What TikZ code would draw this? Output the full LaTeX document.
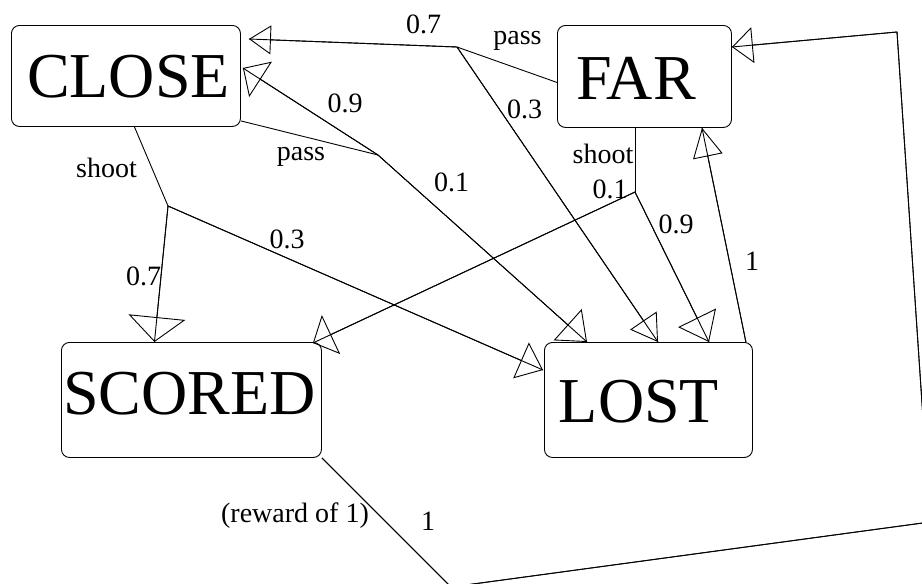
\documentclass[tikz,border=0pt]{standalone}
\usepackage{fontspec}
\setmainfont{Liberation Serif}
\usetikzlibrary{arrows.meta,calc}
\tikzset{
  state/.style={draw, rounded corners=8pt, inner sep=0pt, align=center,
    font=\fontsize{64}{64}\selectfont, anchor=north west},
  lbl/.style={inner sep=0pt, anchor=base, font=\fontsize{28}{28}\selectfont},
  tarrow/.style 2 args={postaction={draw, -{Triangle[open, length=#1pt, width=#2pt]}}},
}
\begin{document}
\begin{tikzpicture}[x=1pt,y=-1pt, line width=0.9pt]
\useasboundingbox (0,0) rectangle (922,584);
% states
\node[state, text width=229pt, text height=72pt, text depth=29pt] (CLOSE) at (11,25) {\hspace*{5pt}CLOSE};
\node[state, text width=174pt, text height=74pt, text depth=28pt] (FAR) at (557,25) {\hspace*{-17pt}FAR};
\node[state, text width=260pt, text height=72pt, text depth=43pt] (SCORED) at (61,342) {\hspace*{-4pt}SCORED};
\node[state, text width=208pt, text height=80pt, text depth=35pt] (LOST) at (544,342) {\hspace*{-19pt}LOST};
% junctions
\coordinate (jCs) at (168,206);
\coordinate (jCp) at (378,155);
\coordinate (jFp) at (457,47);
\coordinate (jFs) at (635,192);
\coordinate (l1) at (451,587);
\coordinate (l2) at (930,522);
\coordinate (l3) at (897,32);
% CLOSE shoot
\draw ($(CLOSE.south)+(8.5,0)$) -- (jCs);
\draw[tarrow={25}{57}] (jCs) -- ($(SCORED.north)+(-37,0)$);
\draw[tarrow={24}{39}] (jCs) -- ($(LOST.north west)+(-1,28)$);
% CLOSE pass
\draw ($(CLOSE.south east)+(0,-6)$) -- (jCp);
\draw[tarrow={21}{42}] (jCp) -- ($(CLOSE.north east)+(2,43)$);
\draw[tarrow={26}{42}] (jCp) -- ($(LOST.north west)+(43,0)$);
% FAR pass
\draw ($(FAR.west)+(0,6)$) -- (jFp);
\draw[tarrow={22}{29}] (jFp) -- ($(CLOSE.north east)+(8,14)$);
\draw[tarrow={26}{32}] (jFp) -- ($(LOST.north west)+(114,0)$);
% FAR shoot
\draw ($(FAR.south west)+(78,0)$) -- (jFs);
\draw[tarrow={20}{43}] (jFs) -- ($(SCORED.north east)+(-9,1)$);
\draw[tarrow={27}{42}] (jFs) -- ($(LOST.north west)+(165,0)$);
% LOST -> FAR
\draw[tarrow={29}{30}] ($(LOST.north east)+(-7,0)$) -- ($(FAR.south west)+(145,0)$);
% SCORED -> FAR loop
\draw[tarrow={21}{36}] (SCORED.south east) -- (l1) -- (l2) -- (l3) -- ($(FAR.north east)+(0,22)$);
% labels
\node[lbl] (tShootC) at (106.5,177) {shoot};
\node[lbl] (tPassC) at (301,160) {pass};
\node[lbl] (t09C) at (345,112) {0.9};
\node[lbl] (t07top) at (423.5,33) {0.7};
\node[lbl] (tPassF) at (517.5,44) {pass};
\node[lbl] (t03F) at (524.5,118) {0.3};
\node[lbl] (t01C) at (451.5,191) {0.1};
\node[lbl] (tShootF) at (603,163) {shoot};
\node[lbl] (t01F) at (610,198) {0.1};
\node[lbl] (t09F) at (676,233) {0.9};
\node[lbl] (t1F) at (752,270) {1};
\node[lbl] (t03C) at (287,248) {0.3};
\node[lbl] (t07C) at (143.5,285) {0.7};
\node[lbl] (tReward) at (295,522) {(reward of 1)};
\node[lbl] (t1loop) at (428,530) {1};
\end{tikzpicture}
\end{document}
